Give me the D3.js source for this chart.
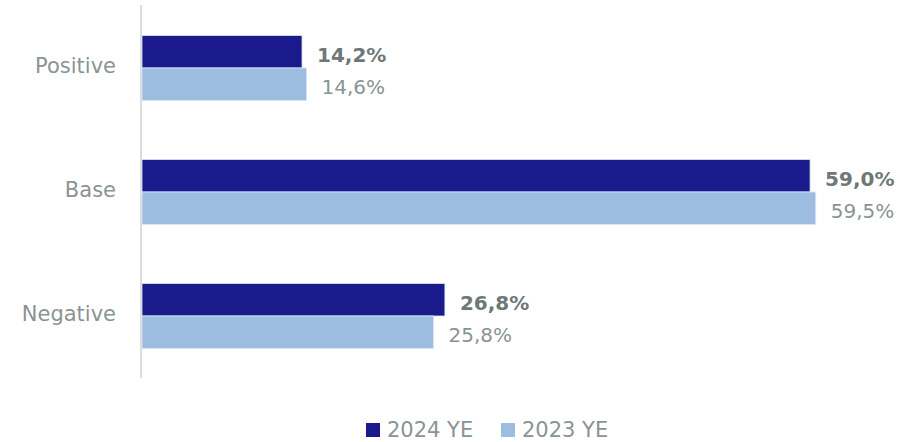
<!DOCTYPE html>
<html>
<head>
<meta charset="utf-8">
<script src="https://cdn.jsdelivr.net/npm/d3@7/dist/d3.min.js"></script>
<style>
  html, body { margin: 0; padding: 0; background: #ffffff; }
  svg { display: block; }
  text { font-family: "DejaVu Sans", "Open Sans", sans-serif; }
</style>
</head>
<body>
<svg id="chart" width="920" height="442"></svg>
<script>
// Scenario weights by year-end
const categories = ["Positive", "Base", "Negative"];
const seriesNames = ["2024 YE", "2023 YE"];
const values2024 = [14.2, 59.0, 26.8];
const values2023 = [14.6, 59.5, 25.8];
const seriesColors = ["#1a1a8c", "#9dbde0"];

const svg = d3.select("#chart");

const x = d3.scaleLinear().domain([0, 60]).range([141, 821.4]);
const y = d3.scaleBand().domain(categories).range([6, 378])
  .paddingInner(0.476).paddingOuter(0.238);
const ySub = d3.scaleBand().domain(seriesNames).range([0, y.bandwidth()]);

const fmt = v => d3.format(".1f")(v).replace(".", ",") + "%";

const rows = categories.map((c, i) => ({
  cat: c,
  items: [
    { s: seriesNames[0], v: values2024[i], color: seriesColors[0], bold: true },
    { s: seriesNames[1], v: values2023[i], color: seriesColors[1], bold: false }
  ]
}));

// vertical baseline axis
svg.append("line")
  .attr("x1", x(0)).attr("x2", x(0))
  .attr("y1", 5).attr("y2", 378)
  .attr("stroke", "#dcdcdc").attr("stroke-width", 2);

const g = svg.selectAll("g.cat").data(rows).join("g")
  .attr("class", "cat")
  .attr("transform", d => `translate(0,${y(d.cat)})`);

g.selectAll("rect").data(d => d.items).join("rect")
  .attr("x", x(0) + 1)
  .attr("y", d => ySub(d.s))
  .attr("width", d => x(d.v) - x(0) - 1)
  .attr("height", ySub.bandwidth())
  .attr("fill", d => d.color)
  .attr("stroke", "#dbe6f3")
  .attr("stroke-width", 0.8);

g.selectAll("text.val").data(d => d.items).join("text")
  .attr("class", "val")
  .attr("x", d => x(d.v) + 15)
  .attr("y", d => ySub(d.s) + ySub.bandwidth() / 2 + 3)
  .attr("dy", "0.35em")
  .attr("font-size", 20)
  .attr("font-weight", d => d.bold ? 700 : 400)
  .attr("fill", d => d.bold ? "#6e7876" : "#8a9492")
  .text(d => fmt(d.v));

// category labels
svg.selectAll("text.catlabel").data(categories).join("text")
  .attr("class", "catlabel")
  .attr("x", 116)
  .attr("y", d => y(d) + y.bandwidth() / 2 - 2)
  .attr("dy", "0.35em")
  .attr("text-anchor", "end")
  .attr("font-size", 21)
  .attr("fill", "#8a9492")
  .text(d => d);

// legend
const legendX = [366, 501];
const lg = svg.selectAll("g.legend").data(seriesNames).join("g")
  .attr("class", "legend")
  .attr("transform", (d, i) => `translate(${legendX[i]},423)`);
lg.append("rect")
  .attr("width", 14).attr("height", 14)
  .attr("fill", (d, i) => seriesColors[i]);
lg.append("text")
  .attr("x", 21).attr("y", 13.5)
  .attr("font-size", 21)
  .attr("fill", "#8a9492")
  .text(d => d);
</script>
</body>
</html>
